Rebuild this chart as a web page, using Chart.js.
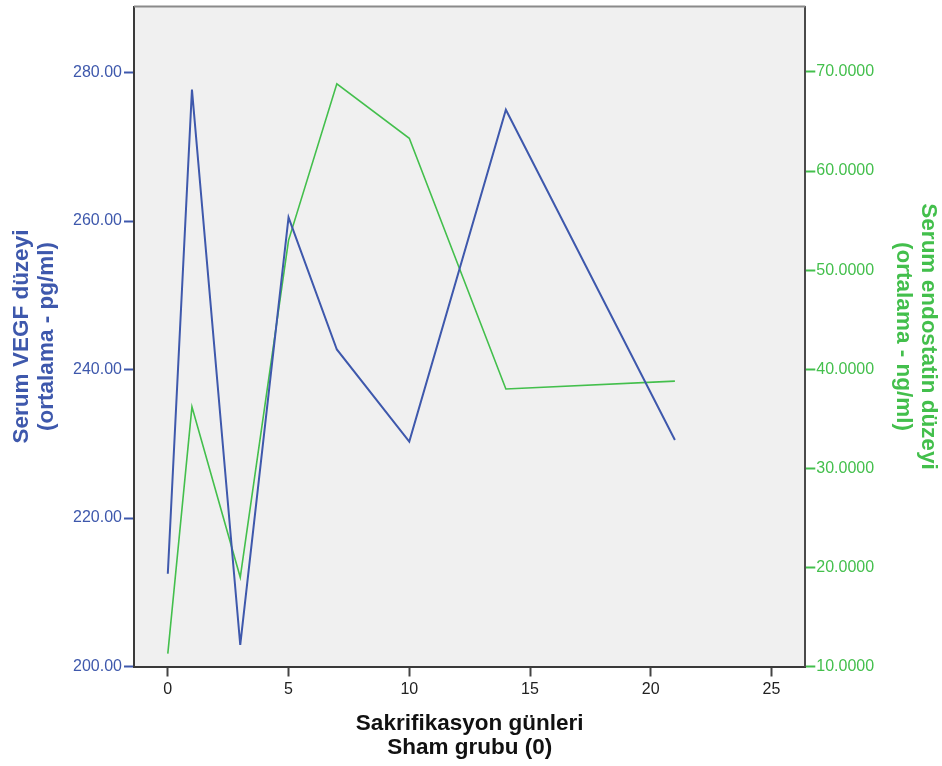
<!DOCTYPE html>
<html>
<head>
<meta charset="utf-8">
<script src="https://cdn.jsdelivr.net/npm/chart.js@4"></script>
<style>
  html, body { margin: 0; padding: 0; background: #fff; }
  #wrap { width: 942px; height: 766px; position: relative; }
</style>
</head>
<body>
<div id="wrap"><canvas id="chart"></canvas></div>
<script>
// Data
const days = [0, 1, 3, 5, 7, 10, 14, 21];
const vegf = [212.5, 277.7, 202.9, 260.5, 242.7, 230.3, 275.0, 230.5];
const endostatin = [11.3, 36.2, 19.0, 53.0, 68.8, 63.3, 38.0, 38.8];
const xTicks = [0, 5, 10, 15, 20, 25];
const vegfTicks = [200, 220, 240, 260, 280];
const endoTicks = [10, 20, 30, 40, 50, 60, 70];

const BLUE = '#3e58ac';
const GREEN = '#43bf4c';
const FONT = "'Liberation Sans', Arial, sans-serif";

// plot frame + grey background
const framePlugin = {
    id: 'frame',
    beforeDraw(chart) {
        const { ctx, chartArea: a } = chart;
        ctx.save();
        ctx.fillStyle = '#f0f0f0';
        ctx.fillRect(a.left, a.top, a.right - a.left, a.bottom - a.top);
        ctx.restore();
    },
    afterDraw(chart) {
        const { ctx, chartArea: a } = chart;
        ctx.save();
        ctx.strokeStyle = '#8a8a8a';
        ctx.lineWidth = 2;
        ctx.beginPath();
        ctx.moveTo(a.left, a.top);
        ctx.lineTo(a.right, a.top);
        ctx.stroke();
        ctx.restore();
    }
};

const toPoints = (ys) => days.map((d, i) => ({ x: d, y: ys[i] }));

// keep the plot box where the reference has it
const fixY = (w) => (s) => { s.width = w; s.paddingTop = 0; s.paddingBottom = 0; };

new Chart(document.getElementById('chart'), {
    type: 'line',
    data: {
        datasets: [
            {
                label: 'VEGF',
                data: toPoints(vegf),
                yAxisID: 'y',
                borderColor: BLUE,
                borderWidth: 2,
                pointRadius: 0,
                tension: 0
            },
            {
                label: 'Endostatin',
                data: toPoints(endostatin),
                yAxisID: 'y2',
                borderColor: GREEN,
                borderWidth: 1.6,
                pointRadius: 0,
                tension: 0
            }
        ]
    },
    options: {
        responsive: true,
        maintainAspectRatio: false,
        animation: false,
        layout: { padding: { top: 6.5, left: 0, right: 0, bottom: 0 } },
        plugins: {
            legend: { display: false },
            tooltip: { enabled: false }
        },
        scales: {
            x: {
                type: 'linear',
                min: -1.4,
                max: 26.4,
                afterFit: (s) => { s.height = 99.5; s.paddingLeft = 0; s.paddingRight = 0; },
                afterBuildTicks: (s) => { s.ticks = xTicks.map(v => ({ value: v })); },
                ticks: { color: '#222', font: { family: FONT, size: 16 }, padding: 3, includeBounds: false },
                grid: { drawOnChartArea: false, tickLength: 10, tickColor: '#444', tickWidth: 2 },
                border: { display: true, color: '#3a3a3a', width: 2 },
                title: {
                    display: true,
                    text: ['Sakrifikasyon günleri', 'Sham grubu (0)'],
                    color: '#111',
                    font: { family: FONT, size: 22.5, weight: 'bold', lineHeight: '24px' },
                    padding: { top: 0, bottom: 6 }
                }
            },
            y: {
                position: 'left',
                min: 200,
                max: 288.9,
                afterFit: fixY(134),
                afterBuildTicks: (s) => { s.ticks = vegfTicks.map(v => ({ value: v })); },
                ticks: {
                    color: BLUE,
                    font: { family: FONT, size: 16 },
                    padding: 2,
                    callback: (v) => v.toFixed(2)
                },
                grid: { drawOnChartArea: false, tickLength: 10, tickColor: BLUE, tickWidth: 2 },
                border: { display: true, color: '#3a3a3a', width: 2 },
                title: {
                    display: true,
                    text: ['Serum VEGF düzeyi', '(ortalama - pg/ml)'],
                    color: BLUE,
                    font: { family: FONT, size: 22.5, weight: 'bold', lineHeight: '25px' },
                    padding: { top: 9, bottom: 0 }
                }
            },
            y2: {
                position: 'right',
                min: 10,
                max: 76.6,
                afterFit: fixY(136.7),
                afterBuildTicks: (s) => { s.ticks = endoTicks.map(v => ({ value: v })); },
                ticks: {
                    color: GREEN,
                    font: { family: FONT, size: 16 },
                    padding: 1,
                    callback: (v) => v.toFixed(4)
                },
                grid: { drawOnChartArea: false, tickLength: 10, tickColor: GREEN, tickWidth: 2 },
                border: { display: true, color: '#4a4a4a', width: 2 },
                title: {
                    display: true,
                    text: ['Serum endostatin düzeyi', '(ortalama - ng/ml)'],
                    color: GREEN,
                    font: { family: FONT, size: 22.5, weight: 'bold', lineHeight: '25px' },
                    padding: { top: 1, bottom: 0 }
                }
            }
        }
    },
    plugins: [framePlugin]
});
</script>
</body>
</html>
